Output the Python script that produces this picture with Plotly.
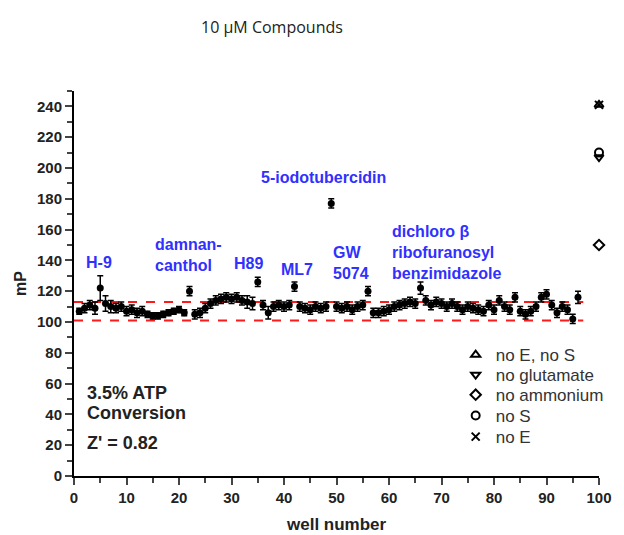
import plotly.graph_objects as go

wells = list(range(1, 97))
mp_values = [107, 109, 111, 109, 122, 112, 110, 109, 110, 107,
             108, 106, 107, 105, 104, 104, 105, 106, 107, 108,
             106, 120, 105, 106, 109, 112, 114, 115, 116, 115,
             116, 114, 113, 112, 126, 111, 106, 110, 111, 110,
             111, 123, 110, 109, 108, 110, 109, 110, 177, 110,
             109, 110, 108, 110, 111, 120, 106, 106, 107, 108,
             110, 111, 112, 113, 112, 122, 114, 111, 113, 112,
             110, 112, 110, 108, 110, 109, 108, 107, 111, 108,
             114, 110, 108, 116, 107, 105, 107, 110, 116, 118,
             111, 106, 110, 108, 102, 116]
mp_errors = [2, 3, 3, 4, 8, 5, 4, 3, 3, 3,
             3, 3, 3, 2, 2, 2, 2, 2, 2, 2,
             2, 3, 3, 3, 3, 3, 3, 3, 3, 3,
             3, 3, 4, 4, 3, 3, 4, 3, 3, 3,
             3, 3, 3, 3, 3, 3, 3, 3, 3, 3,
             3, 3, 3, 3, 3, 3, 3, 3, 3, 3,
             3, 3, 3, 3, 3, 4, 3, 3, 3, 3,
             3, 3, 3, 3, 3, 3, 3, 3, 3, 3,
             3, 3, 3, 3, 3, 3, 3, 3, 3, 3,
             3, 3, 3, 3, 3, 4]

control_names = ["no E, no S", "no glutamate", "no ammonium", "no S", "no E"]
control_x = [100, 100, 100, 100, 100]
control_values = [241, 207, 150, 210, 241]
control_symbols = ["triangle-up-open", "triangle-down-open", "diamond-open", "circle-open", "x-thin"]

threshold_values = [113, 101]
threshold_x = [0, 97]

label_texts = ["H-9", "damnan-<br>canthol", "H89", "ML7", "5-iodotubercidin",
               "GW<br>5074", "dichloro β<br>ribofuranosyl<br>benzimidazole"]
label_x = [1.9, 15.0, 30.0, 39.1, 35.3, 49.0, 60.1]
label_y = [132, 130, 131, 127, 187, 125, 125]

note_texts = ["3.5% ATP", "Conversion", "Z' = 0.82"]
note_y = [53.9, 40.9, 21.4]

x_ticks = [0, 10, 20, 30, 40, 50, 60, 70, 80, 90, 100]
y_ticks = [0, 20, 40, 60, 80, 100, 120, 140, 160, 180, 200, 220, 240]

fig = go.Figure()

for yv in threshold_values:
    fig.add_trace(go.Scatter(x=threshold_x, y=[yv, yv], mode="lines",
                             line=dict(color="#ff1a1a", width=2, dash="dash"),
                             showlegend=False, hoverinfo="skip"))

fig.add_trace(go.Scatter(
    x=wells, y=mp_values, mode="markers",
    marker=dict(color="black", size=7),
    error_y=dict(type="data", array=mp_errors, color="black", thickness=1.5, width=3),
    showlegend=False))

legend_rows = [0.314, 0.262, 0.210, 0.156, 0.101]
legend_layout = {}
for i, (name, xv, yv, sym) in enumerate(zip(control_names, control_x, control_values, control_symbols)):
    key = "legend" if i == 0 else f"legend{i + 1}"
    fig.add_trace(go.Scatter(
        x=[xv], y=[yv], mode="markers", name=name, legend=key,
        marker=dict(symbol=sym, color="black", size=8,
                    line=dict(color="black", width=2)),
        cliponaxis=False))
    legend_layout[key] = dict(x=0.727, y=legend_rows[i], xanchor="left", yanchor="middle",
                              font=dict(family="Liberation Sans, Arial", size=17, color="#333"),
                              bgcolor="rgba(0,0,0,0)", itemwidth=30)

for t, xv, yv in zip(label_texts, label_x, label_y):
    fig.add_annotation(x=xv, y=yv, text=t, showarrow=False, xanchor="left", yanchor="bottom",
                       align="left",
                       font=dict(family="Liberation Sans, Arial", size=16, color="#3030ff", weight="bold"))

for t, yv in zip(note_texts, note_y):
    fig.add_annotation(x=2.0, y=yv, text=t, showarrow=False,
                       xanchor="left", yanchor="middle", align="left",
                       font=dict(family="Liberation Sans, Arial", size=18, color="#222", weight="bold"))

fig.add_annotation(x=0.5, y=-0.127, xref="paper", yref="paper", text="well number",
                   showarrow=False, xanchor="center", yanchor="middle",
                   font=dict(family="Liberation Sans, Arial", size=17, color="#222", weight="bold"))

axis_font = dict(family="Liberation Sans, Arial", size=15, color="#222", weight="bold")

fig.update_xaxes(range=[0, 100], tickvals=x_ticks, ticks="outside", ticklen=7, tickwidth=2,
                 showline=True, linecolor="black", linewidth=2, showgrid=False, zeroline=False,
                 tickfont=axis_font,
                 minor=dict(dtick=5, tick0=0, ticks="outside", ticklen=5, tickwidth=2, showgrid=False))
fig.update_yaxes(range=[0, 250], tickvals=y_ticks, ticks="outside", ticklen=7, tickwidth=2,
                 showline=True, linecolor="black", linewidth=2, showgrid=False, zeroline=False,
                 tickfont=axis_font,
                 minor=dict(dtick=10, tick0=0, ticks="outside", ticklen=5, tickwidth=2, showgrid=False),
                 title=dict(text="mP", font=dict(family="Liberation Sans, Arial", size=16,
                                                 color="#222", weight="bold"), standoff=6))

fig.update_layout(
    width=624, height=535,
    margin=dict(l=64, r=33, t=83, b=67),
    plot_bgcolor="white", paper_bgcolor="white",
    title=dict(text="10 µM Compounds", x=0.423, xanchor="center", y=0.964, yanchor="middle",
               yref="container", font=dict(family="Open Sans", size=16, color="#222")),
    **legend_layout,
)

fig.write_html("out.html")
